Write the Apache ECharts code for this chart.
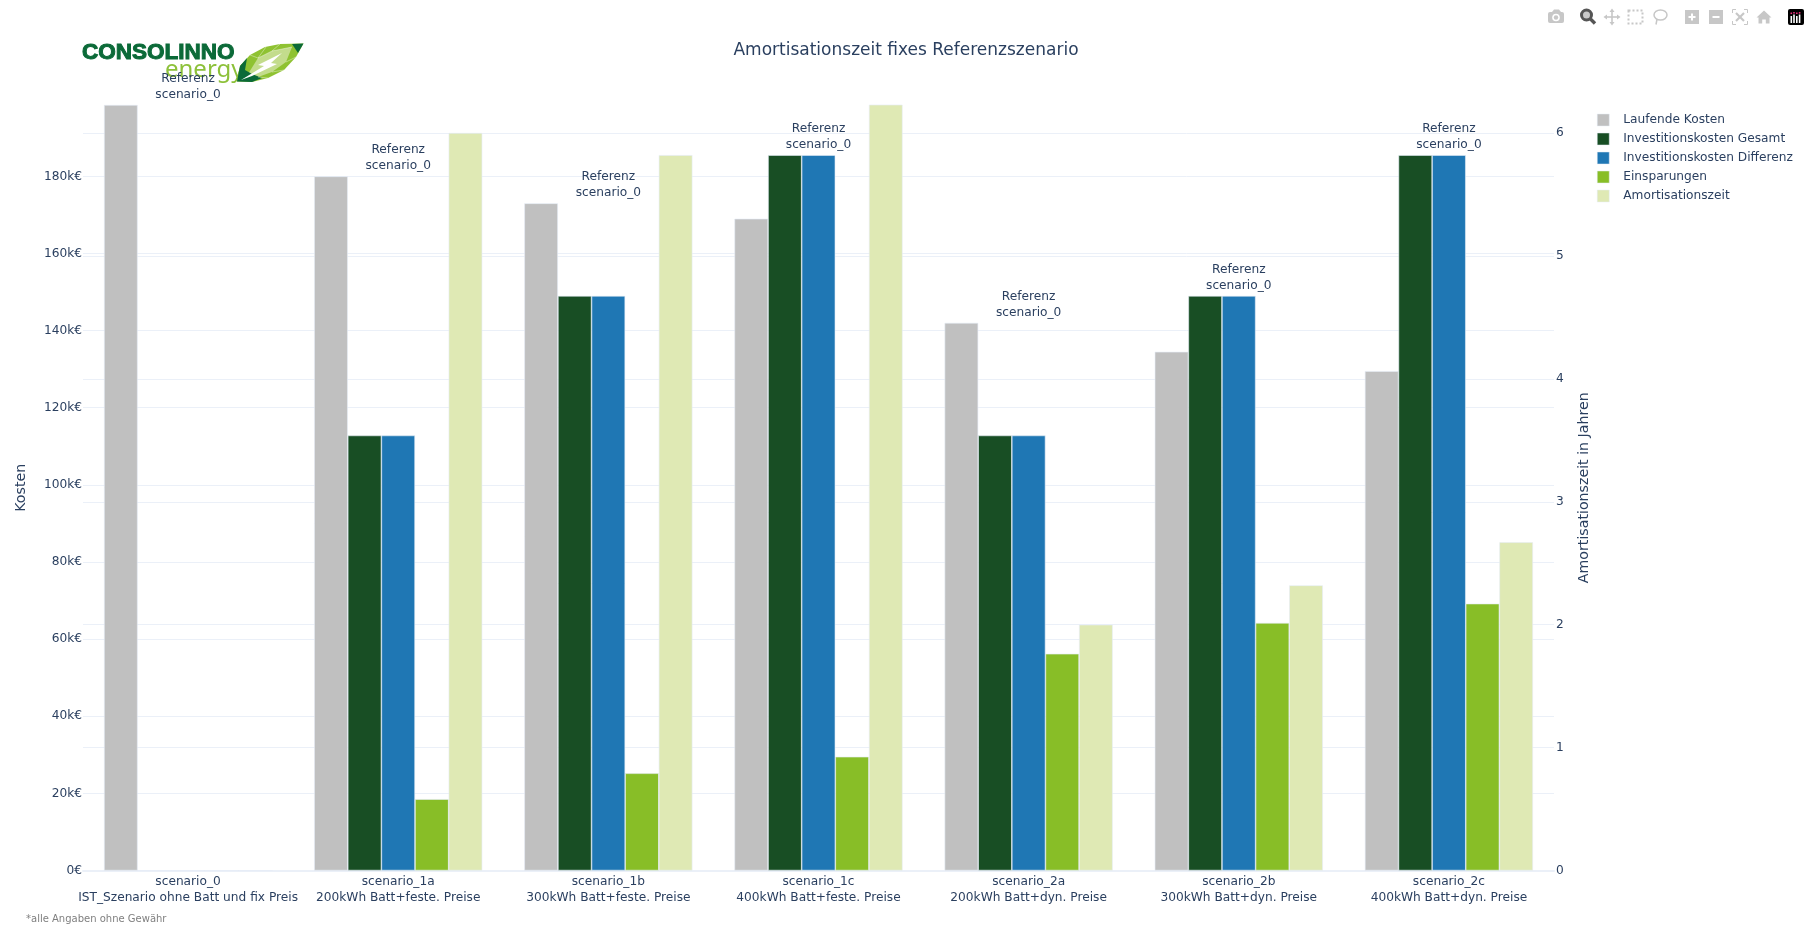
<!DOCTYPE html>
<html>
<head>
<meta charset="utf-8">
<title>Amortisationszeit fixes Referenzszenario</title>
<script src="https://cdn.jsdelivr.net/npm/echarts@6/dist/echarts.min.js"></script>
<style>
  html, body { margin: 0; padding: 0; background: #fff; }
  #chart { width: 1810px; height: 936px; }
</style>
</head>
<body>
<div id="chart"></div>
<script>
// Scenario data (costs in euro, payback time in years)
const scenarioIds = ['scenario_0', 'scenario_1a', 'scenario_1b', 'scenario_1c', 'scenario_2a', 'scenario_2b', 'scenario_2c'];
const scenarioNotes = ['IST_Szenario ohne Batt und fix Preis', '200kWh Batt+feste. Preise', '300kWh Batt+feste. Preise', '400kWh Batt+feste. Preise', '200kWh Batt+dyn. Preise', '300kWh Batt+dyn. Preise', '400kWh Batt+dyn. Preise'];
const laufendeKosten = [198500, 180000, 173000, 169000, 142000, 134500, 129500];
const investGesamt = [0, 112800, 149000, 185500, 112800, 149000, 185500];
const investDifferenz = [0, 112800, 149000, 185500, 112800, 149000, 185500];
const einsparungen = [0, 18500, 25200, 29500, 56200, 64200, 69200];
const amortisation = [0, 6.0, 5.82, 6.29, 2.0, 2.32, 2.67];
const referenceLines = ['Referenz', 'scenario_0'];

const FONT = '"DejaVu Sans", Verdana, sans-serif';
const INK = '#2a3f5f';
const GRID = '#EBF0F8';
const EDGE = '#E5ECF6';
const LABEL_SIZE = 12.2;

function barSeries(name, values, color, axisIndex) {
  return {
    name, type: 'bar', yAxisIndex: axisIndex, data: values,
    barWidth: '16%', barGap: '0%',
    itemStyle: { color, borderColor: EDGE, borderWidth: 0.6 },
    emphasis: { disabled: true }
  };
}

// Toolbar and brand shapes, drawn as plain graphic elements
const gray = '#c7c7c7';
const rect = (x, y, width, height, fill, r) => ({ type: 'rect', z: 5, shape: { x, y, width, height, r: r || 0 }, style: { fill } });
const circ = (cx, cy, r, fill, stroke, lineWidth) => ({ type: 'circle', z: 5, shape: { cx, cy, r }, style: { fill: fill || 'transparent', stroke, lineWidth } });
const poly = (points, fill, z, smooth) => ({ type: 'polygon', z: z || 5, shape: { points, smooth: smooth || 0 }, style: { fill } });
const line = (x1, y1, x2, y2, stroke, lineWidth, dash) => ({ type: 'line', z: 5, shape: { x1, y1, x2, y2 }, style: { stroke, lineWidth, lineDash: dash } });
const facet = (points) => ({ type: 'polyline', z: 1, shape: { points }, style: { stroke: 'rgba(255,255,255,0.55)', fill: null, lineWidth: 0.7 } });

const toolbar = [
  // camera
  rect(1548, 12, 16, 11, gray, 2), poly([[1552, 12], [1554, 9.5], [1559, 9.5], [1561, 12]], gray),
  circ(1556, 17.5, 3.8, '#fff'), circ(1556, 17.5, 2.2, gray),
  // zoom (active)
  circ(1586.5, 15, 5, '#c9c9c9', '#555', 3), line(1590.5, 19, 1595, 23.5, '#555', 3.4),
  // pan
  line(1612, 10, 1612, 24, gray, 1.6), line(1605, 17, 1619, 17, gray, 1.6),
  poly([[1612, 8.5], [1609.5, 12], [1614.5, 12]], gray), poly([[1612, 25.5], [1609.5, 22], [1614.5, 22]], gray),
  poly([[1603.5, 17], [1607, 14.5], [1607, 19.5]], gray), poly([[1620.5, 17], [1617, 14.5], [1617, 19.5]], gray),
  // box select
  { type: 'rect', z: 5, shape: { x: 1628.5, y: 10.5, width: 14, height: 13 }, style: { fill: 'transparent', stroke: gray, lineWidth: 2, lineDash: [2, 2] } },
  // lasso
  { type: 'ellipse', z: 5, shape: { cx: 1660.5, cy: 15, rx: 6.5, ry: 5 }, style: { fill: 'transparent', stroke: gray, lineWidth: 1.5 } },
  line(1657, 19, 1656, 24.5, gray, 1.5),
  // zoom in
  rect(1685, 10, 14, 14, gray), rect(1688.5, 16, 7, 2, '#fff'), rect(1691, 13.5, 2, 7, '#fff'),
  // zoom out
  rect(1709, 10, 14, 14, gray), rect(1712.5, 16, 7, 2, '#fff'),
  // autoscale
  { type: 'polyline', z: 5, shape: { points: [[1732.5, 13], [1732.5, 9.5], [1736, 9.5]] }, style: { stroke: gray, fill: null, lineWidth: 1 } },
  { type: 'polyline', z: 5, shape: { points: [[1744, 9.5], [1747.5, 9.5], [1747.5, 13]] }, style: { stroke: gray, fill: null, lineWidth: 1 } },
  { type: 'polyline', z: 5, shape: { points: [[1732.5, 21], [1732.5, 24.5], [1736, 24.5]] }, style: { stroke: gray, fill: null, lineWidth: 1 } },
  { type: 'polyline', z: 5, shape: { points: [[1744, 24.5], [1747.5, 24.5], [1747.5, 21]] }, style: { stroke: gray, fill: null, lineWidth: 1 } },
  line(1736, 13, 1744, 21, gray, 2.2), line(1744, 13, 1736, 21, gray, 2.2),
  // home
  poly([[1764, 10.5], [1771.5, 17.5], [1769.5, 17.5], [1769.5, 23.5], [1765.8, 23.5], [1765.8, 19.5], [1762.2, 19.5], [1762.2, 23.5], [1758.5, 23.5], [1758.5, 17.5], [1756.5, 17.5]], gray),
  // plotly mark
  rect(1788, 9, 16, 16, '#000', 2),
  rect(1790.5, 16, 1.6, 7, '#fff'), rect(1793.2, 14.5, 1.6, 8.5, '#fff'), rect(1796, 16, 1.6, 7, '#fff'), rect(1798.8, 14.5, 1.6, 8.5, '#fff'),
  rect(1790.5, 12.5, 1.6, 1.6, '#ef2b7c'), rect(1793.2, 12, 1.6, 1.6, '#ef2b7c'), rect(1796, 12.5, 1.6, 1.6, '#ef2b7c'), rect(1798.8, 12, 1.6, 1.6, '#ef2b7c')
];

const logo = [
  { type: 'text', z: 1, style: { text: 'CONSOLINNO', x: 82, y: 53, fill: '#0b6a38', stroke: '#0b6a38', lineWidth: 1, font: 'bold 22.5px "Liberation Sans", Arial, sans-serif', textVerticalAlign: 'middle' } },
  { type: 'text', z: 1, style: { text: 'energy', x: 165, y: 70, fill: '#8dc13a', font: '24px "Noto Sans", sans-serif', textVerticalAlign: 'middle' } },
  // leaf body
  poly([[237, 81.5], [240, 66], [250, 55], [265, 47], [280, 44], [303.5, 43.5], [296, 57], [284, 70], [268, 78], [252, 82]], '#8fc232', 1),
  poly([[248, 74], [258, 58], [272, 51], [292, 47], [286, 62], [272, 72], [258, 77]], '#c3dc8c', 1),
  poly([[237, 81.5], [240, 66], [247, 58], [245, 70], [252, 74], [262, 78], [252, 82]], '#0b6a38', 1),
  poly([[292, 44], [303.5, 43.5], [298, 53]], '#0b6a38', 1),
  facet([[250, 55], [258, 58], [266, 47]]), facet([[258, 58], [272, 51], [280, 44]]),
  facet([[272, 51], [292, 47]]), facet([[286, 62], [296, 57]]), facet([[272, 72], [284, 70]]), facet([[258, 77], [268, 78]]),
  poly([[241, 80], [264, 66], [258, 65], [282, 53], [271, 63], [277, 64], [252, 76]], '#fff', 1)
];

const option = {
  backgroundColor: '#fff',
  animation: false,
  textStyle: { fontFamily: FONT, color: INK },
  title: {
    text: 'Amortisationszeit fixes Referenzszenario',
    left: 906, top: 42, padding: 0, textAlign: 'center',
    textStyle: { fontFamily: FONT, fontSize: 17, fontWeight: 'normal', color: INK }
  },
  legend: {
    left: 1597, top: 113, padding: 0, orient: 'vertical',
    itemWidth: 12, itemHeight: 12, itemGap: 5, icon: 'rect',
    selectedMode: false,
    itemStyle: { borderWidth: 0.5 },
    data: ['Laufende Kosten', 'Investitionskosten Gesamt', 'Investitionskosten Differenz', 'Einsparungen', 'Amortisationszeit'],
    textStyle: { fontFamily: FONT, fontSize: LABEL_SIZE, color: INK, padding: [0, 0, 0, 9], lineHeight: 14 }
  },
  grid: { left: 83, right: 256, top: 105, bottom: 65.5, outerBoundsMode: 'none' },
  xAxis: {
    type: 'category',
    data: scenarioIds.map((id, i) => id + '\n' + scenarioNotes[i]),
    axisLine: { lineStyle: { color: GRID, width: 2 } },
    axisTick: { show: false },
    splitLine: { show: false },
    axisLabel: { fontFamily: FONT, fontSize: LABEL_SIZE, color: INK, lineHeight: 16, margin: 3, interval: 0 }
  },
  yAxis: [
    {
      type: 'value', min: 0, max: 198500, interval: 20000,
      name: 'Kosten', nameLocation: 'middle', nameGap: 55, nameRotate: 90, nameMoveOverlap: false,
      nameTextStyle: { fontFamily: FONT, fontSize: 14.2, color: INK },
      axisLine: { show: false }, axisTick: { show: false },
      axisLabel: { fontFamily: FONT, fontSize: LABEL_SIZE, color: INK, margin: 1, padding: [10, 0, 0, 0], showMaxLabel: false, formatter: v => (v === 0 ? '0€' : (v / 1000) + 'k€') },
      splitLine: { show: true, showMaxLine: false, showMinLine: false, lineStyle: { color: GRID, width: 1 } }
    },
    {
      type: 'value', min: 0, max: 6.228, interval: 1, position: 'right',
      name: 'Amortisationszeit in Jahren', nameLocation: 'middle', nameGap: 23, nameRotate: 90, nameMoveOverlap: false,
      nameTextStyle: { fontFamily: FONT, fontSize: 14.2, color: INK },
      axisLine: { show: false }, axisTick: { show: false },
      axisLabel: { fontFamily: FONT, fontSize: LABEL_SIZE, color: INK, margin: 2, padding: [10, 0, 0, 0], showMaxLabel: false },
      splitLine: { show: true, showMaxLine: false, showMinLine: false, lineStyle: { color: GRID, width: 1 } }
    }
  ],
  series: [
    barSeries('Laufende Kosten', laufendeKosten, '#C0C0C0', 0),
    barSeries('Investitionskosten Gesamt', investGesamt, '#184E24', 0),
    barSeries('Investitionskosten Differenz', investDifferenz, '#1F77B4', 0),
    barSeries('Einsparungen', einsparungen, '#88BE27', 0),
    barSeries('Amortisationszeit', amortisation, '#DFE9B4', 1),
    {
      // reference note above the tallest cost bar of each scenario
      name: 'Referenz', type: 'scatter', yAxisIndex: 0, z: 6,
      symbolSize: 1, itemStyle: { color: 'transparent', opacity: 1 }, silent: true,
      data: scenarioIds.map((id, i) => Math.max(laufendeKosten[i], investGesamt[i], investDifferenz[i])),
      label: {
        show: true, position: 'top', distance: 2,
        formatter: referenceLines.join('\n'),
        fontFamily: FONT, fontSize: LABEL_SIZE, lineHeight: 16, color: INK
      }
    }
  ],
  graphic: logo.concat(toolbar).concat([
    { type: 'text', z: 5, style: { text: '*alle Angaben ohne Gewähr', x: 26, y: 919, fill: '#7f7f7f', font: '10px ' + FONT, textVerticalAlign: 'middle' } }
  ])
};

echarts.init(document.getElementById('chart'), null, { renderer: 'canvas' }).setOption(option);
</script>
</body>
</html>
